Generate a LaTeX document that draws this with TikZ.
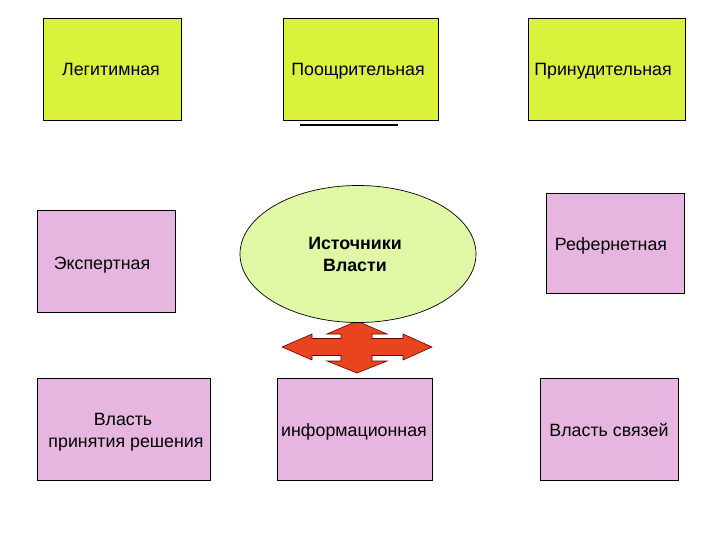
\documentclass[tikz,border=0pt]{standalone}
\usepackage{fontspec}
\setmainfont{Liberation Sans}
\usetikzlibrary{shapes.geometric}
\definecolor{ygreen}{HTML}{DAF23C}
\definecolor{pinkbox}{HTML}{E6B6E0}
\definecolor{lightgreen}{HTML}{E0F7A6}
\definecolor{arrowred}{HTML}{E8441E}
\tikzset{
  box/.style={draw=black, line width=0.9pt, rectangle, inner sep=0pt},
  ybox/.style={box, fill=ygreen},
  pbox/.style={box, fill=pinkbox},
  lbl/.style={anchor=base, inner sep=0pt, font=\fontsize{17.8}{21}\selectfont},
  blbl/.style={lbl, font=\fontsize{17.8}{21}\selectfont\bfseries},
}
\begin{document}
\begin{tikzpicture}[x=1pt,y=-1pt]
\useasboundingbox (0,0) rectangle (720,540);
\fill[white] (0,0) rectangle (720,540);
% top row
\node[ybox, minimum width=138pt, minimum height=102pt] (leg) at (112,69) {};
\node[ybox, minimum width=155pt, minimum height=102pt] (poo) at (360.5,69) {};
\node[ybox, minimum width=157pt, minimum height=102pt] (pri) at (606.5,69) {};
\node[lbl] (tleg) at (111,76) {Легитимная};
\node[lbl] (tpoo) at (358,76) {Поощрительная};
\node[lbl] (tpri) at (603,76) {Принудительная};
\coordinate (ula) at (300,125);
\coordinate (ulb) at (398,125);
\draw[line width=2pt] (ula) -- (ulb);
% middle row
\node[pbox, minimum width=138pt, minimum height=102pt] (exp) at (106,261) {};
\node[pbox, minimum width=138pt, minimum height=100pt] (ref) at (615,243) {};
\node[lbl] (texp) at (102,269) {Экспертная};
\node[lbl] (tref) at (611,251) {Рефернетная};
% arrow
\draw[fill=arrowred, draw=black!60!red, line width=0.6pt]
 (282,347) -- (312,334) -- (312,338.5) -- (341,338.5) -- (341,334) -- (327,334) -- (357,321)
 -- (387,334) -- (372,334) -- (372,338.5) -- (403,338.5) -- (403,334) -- (432,347)
 -- (403,360) -- (403,355.5) -- (372,355.5) -- (372,361) -- (387,361) -- (357,373)
 -- (327,361) -- (341,361) -- (341,355.5) -- (312,355.5) -- (312,360) -- cycle;
\node[ellipse, draw=black, line width=0.7pt, fill=lightgreen, minimum width=236pt, minimum height=137pt, inner sep=0pt] (src) at (358,254) {};
\node[blbl] (tsrc1) at (355,249) {Источники};
\node[blbl] (tsrc2) at (355,271) {Власти};
% bottom row
\node[pbox, minimum width=173pt, minimum height=102pt] (pr) at (123.5,429) {};
\node[pbox, minimum width=155pt, minimum height=102pt] (inf) at (354.5,429) {};
\node[pbox, minimum width=138pt, minimum height=102pt] (svz) at (609,429) {};
\node[lbl] (tpr1) at (123,425) {Власть};
\node[lbl] (tpr2) at (126,447) {принятия решения};
\node[lbl] (tinf) at (354,436) {информационная};
\node[lbl] (tsvz) at (609,436) {Власть связей};
\end{tikzpicture}
\end{document}
